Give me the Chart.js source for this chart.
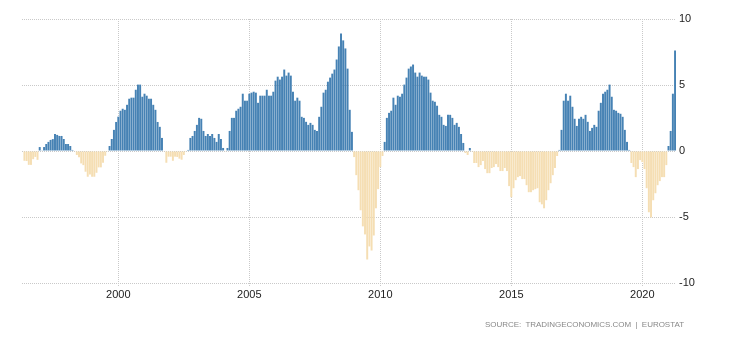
<!DOCTYPE html>
<html>
<head>
<meta charset="utf-8">
<script src="https://cdn.jsdelivr.net/npm/chart.js@4.4.1/dist/chart.umd.min.js"></script>
<style>
  html, body { margin: 0; padding: 0; background: #fff; }
  #wrap { position: relative; width: 730px; height: 340px; overflow: hidden; }
  #source {
    position: absolute; right: 46px; top: 321.2px;
    font: 8px/1 "Liberation Sans", Arial, sans-serif;
    color: #888; white-space: pre;
  }
</style>
</head>
<body>
<div id="wrap">
  <canvas id="c" width="730" height="340"></canvas>
  <div id="source">SOURCE:  TRADINGECONOMICS.COM  |  EUROSTAT</div>
</div>
<script>
// Euro area producer prices, % change year on year (monthly), first value = June 1996
const startYear = 1996;
const startMonth = 6;
const v1996 = [-0.74, -0.76, -1.05, -1.05, -0.62, -0.45, -0.67];
const v1997 = [0.3, 0.05, 0.3, 0.53, 0.69, 0.84, 0.9, 1.29, 1.22, 1.14, 1.14, 0.91];
const v1998 = [0.53, 0.53, 0.38, 0.08, -0.05, -0.3, -0.48, -0.94, -1.07, -1.57, -1.95, -1.78];
const v1999 = [-1.95, -1.95, -1.65, -1.24, -1.24, -0.89, -0.36, -0.05, 0.38, 0.91, 1.6, 2.2];
const v2000 = [2.6, 3.05, 3.2, 3.12, 3.5, 3.96, 4.04, 4.04, 4.64, 5.03, 5.03, 4.11];
const v2001 = [4.34, 4.19, 3.96, 3.96, 3.5, 3.12, 2.2, 1.83, 0.99, -0.05, -0.89, -0.43];
const v2002 = [-0.43, -0.74, -0.43, -0.45, -0.58, -0.66, -0.3, -0.05, 0.08, 0.99, 1.14, 1.52];
const v2003 = [1.98, 2.51, 2.44, 1.52, 1.14, 1.29, 1.14, 1.29, 0.99, 0.69, 1.29, 0.91];
const v2004 = [0.23, -0.05, 0.23, 1.52, 2.51, 2.51, 3.05, 3.2, 3.35, 4.34, 3.81, 3.81];
const v2005 = [4.34, 4.42, 4.49, 4.42, 3.65, 4.19, 4.19, 4.19, 4.64, 4.19, 4.19, 4.49];
const v2006 = [5.33, 5.63, 5.41, 5.63, 6.17, 5.71, 5.94, 5.71, 4.49, 3.81, 4.04, 3.81];
const v2007 = [2.59, 2.51, 2.21, 1.98, 2.13, 1.98, 1.6, 1.52, 2.59, 3.35, 4.42, 4.64];
const v2008 = [5.25, 5.56, 5.86, 6.17, 6.93, 7.92, 8.91, 8.38, 7.77, 6.24, 3.12, 1.45];
const v2009 = [-0.46, -1.83, -2.97, -4.49, -5.71, -6.32, -8.22, -7.23, -7.54, -6.4, -4.34, -2.89];
const v2010 = [-1.22, -0.38, 0.69, 2.51, 2.89, 3.05, 4.04, 3.5, 4.19, 4.11, 4.34, 5.03];
const v2011 = [5.56, 6.24, 6.4, 6.55, 5.94, 5.63, 5.94, 5.71, 5.63, 5.63, 5.41, 4.42];
const v2012 = [3.81, 3.73, 3.43, 2.74, 2.59, 1.98, 1.9, 2.74, 2.74, 2.51, 1.98, 2.13];
const v2013 = [1.83, 1.29, 0.61, -0.15, -0.3, 0.23, -0.05, -0.91, -0.91, -1.22, -1.07, -0.76];
const v2014 = [-1.37, -1.68, -1.68, -1.29, -1.22, -0.99, -1.22, -1.52, -1.52, -1.29, -1.52, -2.66];
const v2015 = [-3.5, -2.82, -2.21, -1.98, -1.9, -2.13, -2.13, -2.59, -3.12, -3.12, -2.97, -2.89];
const v2016 = [-2.82, -3.88, -4.04, -4.34, -3.73, -2.97, -2.44, -1.83, -1.29, -0.38, 0.08, 1.6];
const v2017 = [3.81, 4.34, 3.81, 4.19, 3.35, 2.44, 1.9, 2.44, 2.59, 2.44, 2.74, 2.21];
const v2018 = [1.52, 1.75, 1.98, 1.83, 3.05, 3.65, 4.34, 4.49, 4.64, 5.03, 4.11, 3.12];
const v2019 = [3.05, 2.89, 2.82, 2.59, 1.6, 0.69, 0.08, -0.91, -1.22, -1.98, -1.37, -0.69];
const v2020 = [-0.84, -1.37, -2.82, -4.64, -5.03, -3.73, -3.2, -2.59, -2.28, -1.98, -1.98, -1.07];
const v2021 = [0.38, 1.52, 4.34, 7.61];

const xTickYears = [2000, 2005, 2010, 2015, 2020];
const yTicks = [-10, -5, 0, 5, 10];

const values = [].concat(v1996, v1997, v1998, v1999, v2000, v2001, v2002, v2003, v2004,
  v2005, v2006, v2007, v2008, v2009, v2010, v2011, v2012, v2013, v2014, v2015, v2016,
  v2017, v2018, v2019, v2020, v2021);

// categories: one per month
const months = values.map((_, i) => {
  const t = (startMonth - 1) + i;
  const y = startYear + Math.floor(t / 12);
  const m = (t % 12) + 1;
  return y + '-' + String(m).padStart(2, '0');
});
const monthToX = s => { const [y, m] = s.split('-').map(Number); return y + (m - 1) / 12; };
const points = months.map((mo, i) => ({ x: monthToX(mo), y: values[i] }));

const BLUE = '#4682b4', TAN = '#f5deb3', GRID = '#c9c9c9', TXT = '#222';
const FONT = { family: '"Liberation Sans", Arial, sans-serif', size: 11 };

new Chart(document.getElementById('c'), {
  type: 'bar',
  data: {
    datasets: [{
      data: points,
      backgroundColor: ctx => (ctx.raw && ctx.raw.y >= 0) ? BLUE : TAN,
      borderWidth: 0,
      barPercentage: 0.9,
      categoryPercentage: 1.0
    }]
  },
  options: {
    responsive: false,
    animation: false,
    layout: { padding: { left: 22, top: 19, right: 0, bottom: 0 } },
    plugins: { legend: { display: false }, tooltip: { enabled: false } },
    scales: {
      x: {
        type: 'linear',
        min: 1996.324,
        max: 2021.286,
        offset: false,
        afterBuildTicks: s => { s.ticks = xTickYears.map(v => ({ value: v })); },
        afterFit: s => { s.height = 57; },
        grid: { offset: false, color: GRID, lineWidth: 1, tickLength: 4, tickColor: GRID, tickBorderDash: [1, 1] },
        border: { display: false, dash: [1, 1] },
        ticks: { padding: 1, color: TXT, font: FONT, maxRotation: 0, autoSkip: false, callback: v => String(v) }
      },
      y: {
        position: 'right',
        min: -10,
        max: 10,
        afterBuildTicks: s => { s.ticks = yTicks.map(v => ({ value: v })); },
        afterFit: s => { s.width = 54; },
        grid: { drawTicks: false, color: GRID, lineWidth: 1 },
        border: { display: false, dash: [1, 1] },
        ticks: { padding: 3, color: TXT, font: FONT, callback: v => String(v) }
      }
    }
  }
});

// fit source line to its span in the reference
(function () {
  const src = document.getElementById('source');
  const target = 199;
  const w = src.getBoundingClientRect().width;
  const n = src.textContent.length;
  src.style.letterSpacing = ((target - w) / n).toFixed(3) + 'px';
})();
</script>
</body>
</html>
